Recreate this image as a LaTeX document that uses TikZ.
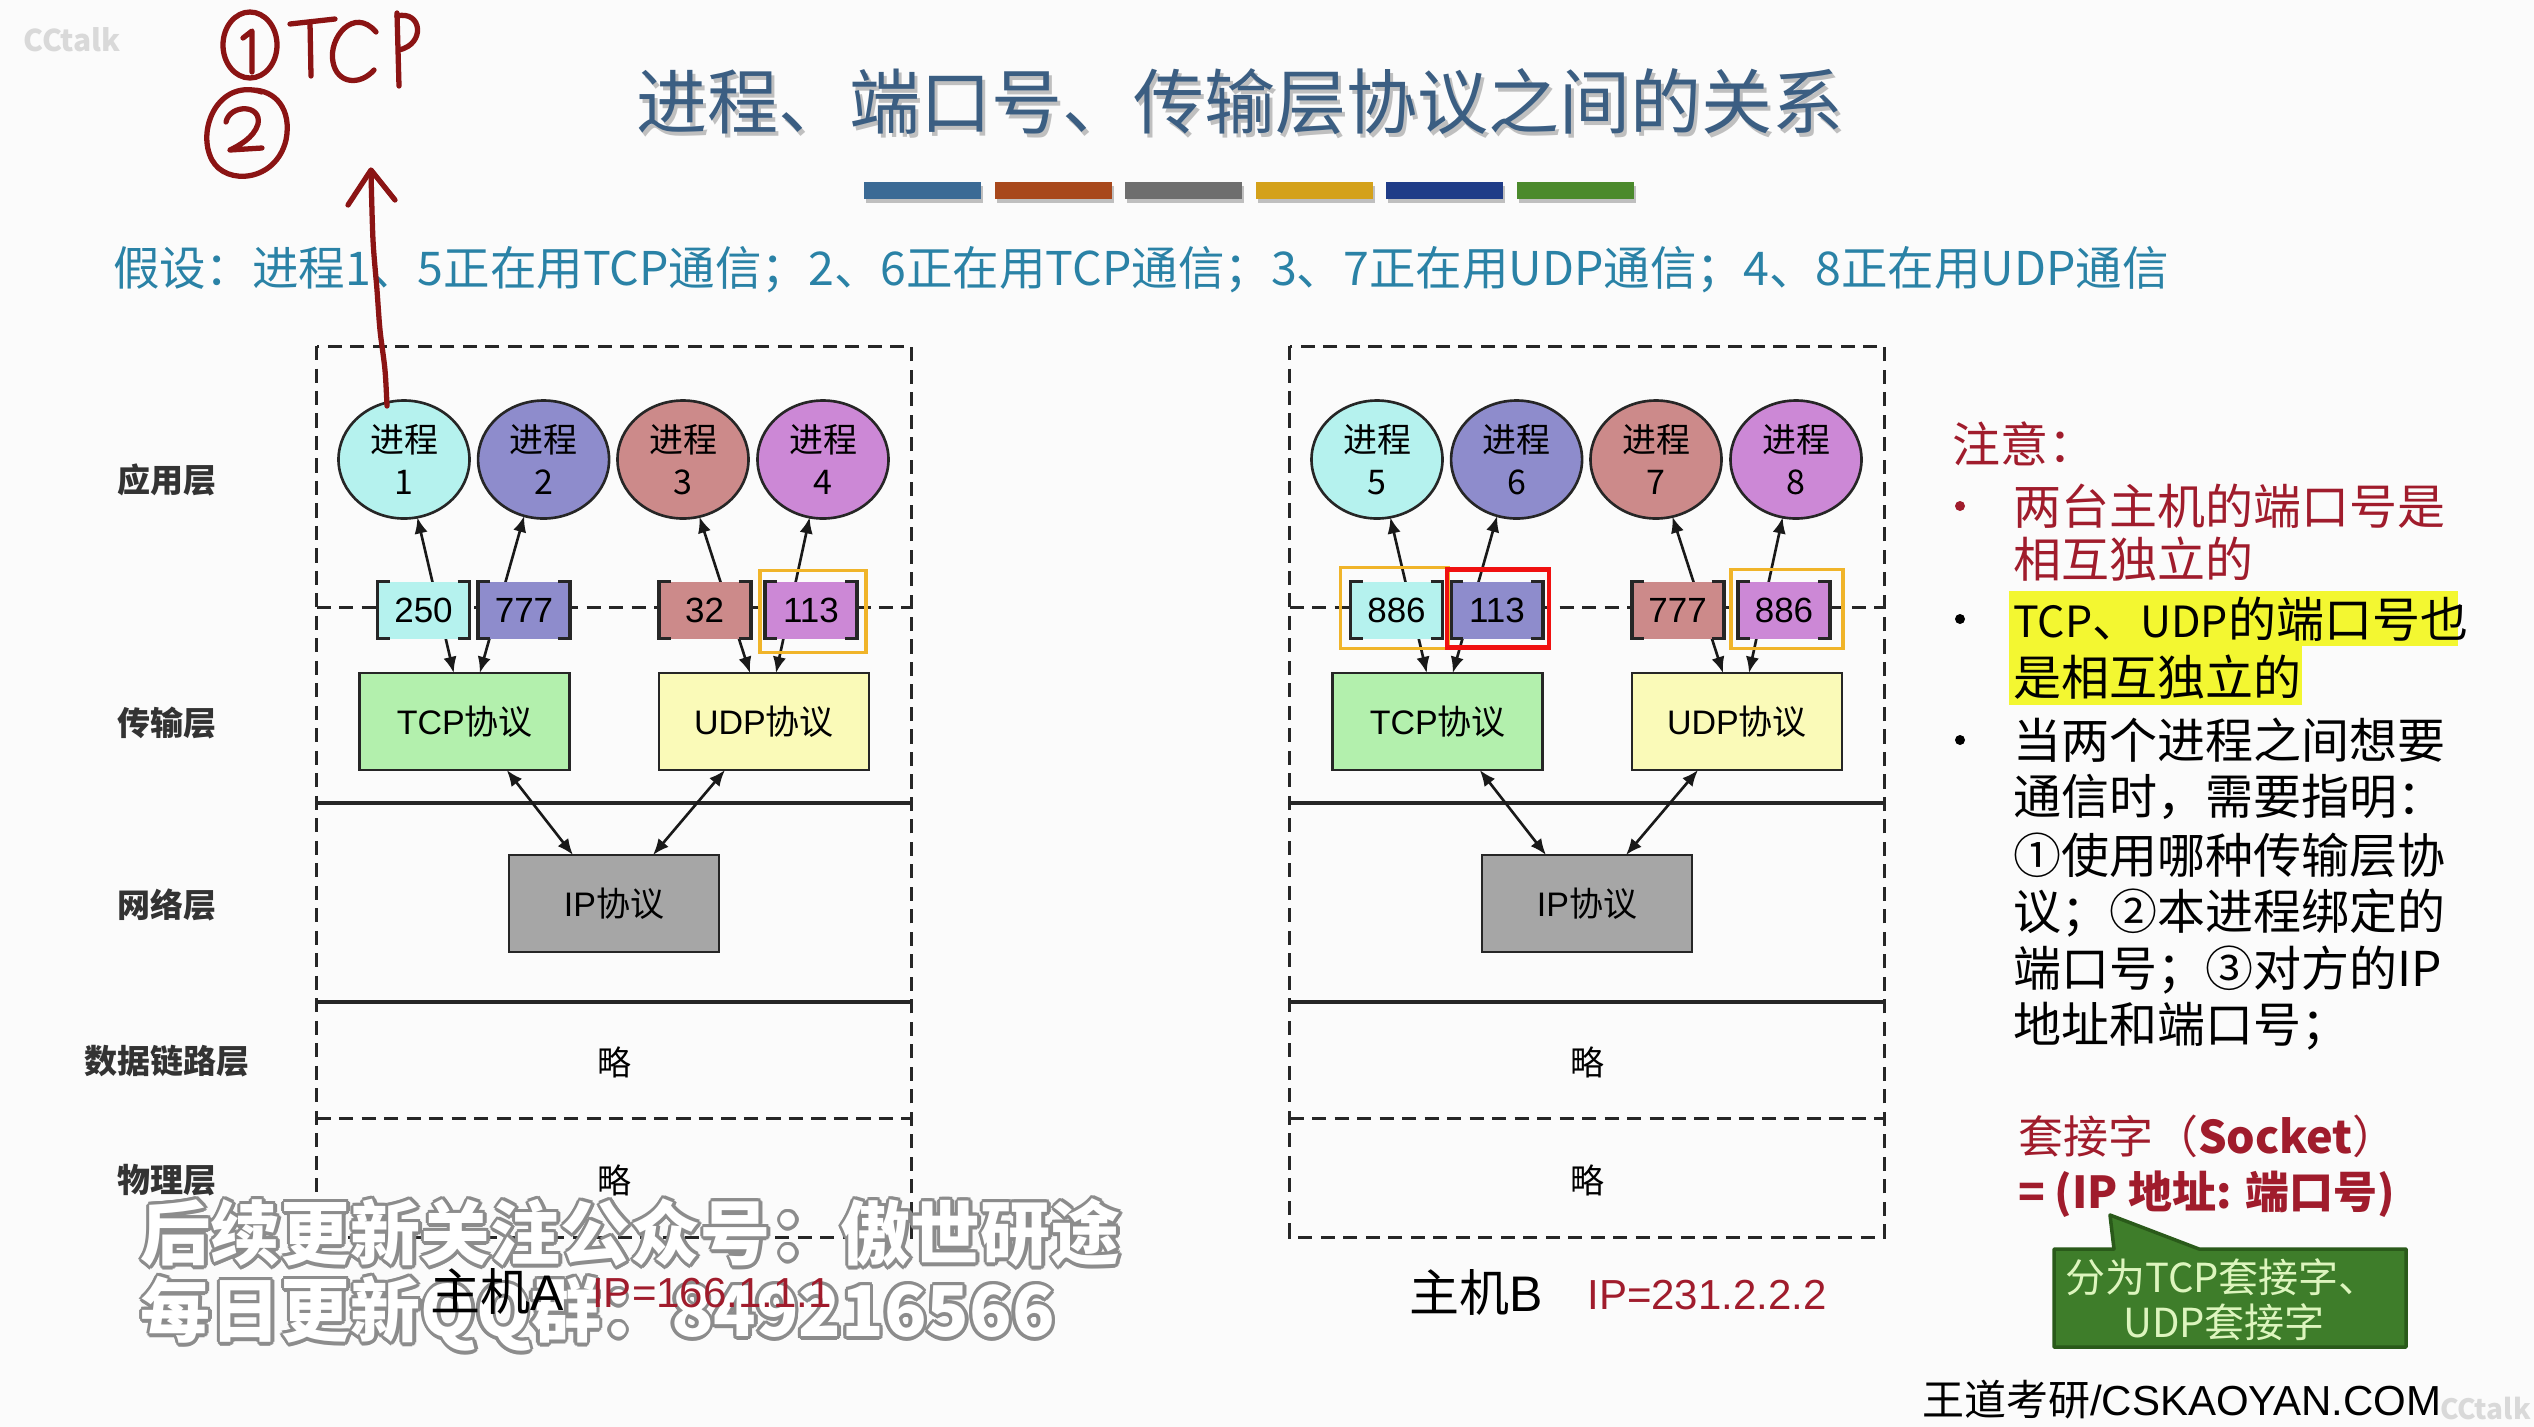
\documentclass[tikz,border=0pt]{standalone}
\usepackage{fontspec}
\setmainfont{Noto Sans CJK SC}
\newfontfamily\helv{Liberation Sans}
\usetikzlibrary{shapes.geometric,arrows.meta,calc}

% font size given in picture pixels (1px = 0.1mm)
\newcommand\pxfont[1]{\fontsize{\fpeval{#1*0.28453}pt}{\fpeval{#1*0.28453*1.24}pt}\selectfont}

\definecolor{paper}{HTML}{FBFBFB}
\definecolor{procA}{HTML}{B5F2EE}
\definecolor{procB}{HTML}{8E8CCC}
\definecolor{procC}{HTML}{CC8A8A}
\definecolor{procD}{HTML}{CC88D6}
\definecolor{tcpfill}{HTML}{B3F0AD}
\definecolor{udpfill}{HTML}{FAFAB8}
\definecolor{ipfill}{HTML}{A6A6A6}
\definecolor{titleblue}{HTML}{3B5E82}
\definecolor{assume}{HTML}{2A82A6}
\definecolor{notered}{HTML}{A01C2C}
\definecolor{inkred}{HTML}{8B1414}
\definecolor{hlorange}{HTML}{F0B429}
\definecolor{hlred}{HTML}{F01010}
\definecolor{hlyellow}{HTML}{F3F731}
\definecolor{calloutfill}{HTML}{3E7D2A}
\definecolor{calloutedge}{HTML}{2A5A1A}
\definecolor{callouttext}{HTML}{DDF5BE}
\definecolor{wmgray}{HTML}{8C8C8C}
\definecolor{barA}{HTML}{3B6A95}
\definecolor{barB}{HTML}{A8481C}
\definecolor{barC}{HTML}{6E6E6E}
\definecolor{barD}{HTML}{D4A11A}
\definecolor{barE}{HTML}{1F3C88}
\definecolor{barF}{HTML}{4B8A2C}

% square brackets on the left and right sides of a port box
\newcommand\brk[1]{%
  \draw[brkline] ([xshift=1.2mm]#1.north west) -- (#1.north west) -- (#1.south west) -- ([xshift=1.2mm]#1.south west);
  \draw[brkline] ([xshift=-1.2mm]#1.north east) -- (#1.north east) -- (#1.south east) -- ([xshift=-1.2mm]#1.south east);}

% one host: #1 name suffix, #2 x offset, #3 first process number, #4-#7 port numbers
\newcommand\hostpanel[7]{%
\begin{scope}[shift={(#2,0)}]
  \draw[layerdash] (316.6,346) rectangle (911.5,1237);
  \draw[layerdash] (316.6,607) -- (911.5,607);
  \draw[layersolid] (316.6,803) -- (911.5,803);
  \draw[layersolid] (316.6,1002) -- (911.5,1002);
  \draw[layerdash] (316.6,1118) -- (911.5,1118);
  \node[proc, fill=procA] (p#1a) at (404,459.5) {进程\\\the\numexpr#3\relax};
  \node[proc, fill=procB] (p#1b) at (543.6,459.5) {进程\\\the\numexpr#3+1\relax};
  \node[proc, fill=procC] (p#1c) at (683,459.5) {进程\\\the\numexpr#3+2\relax};
  \node[proc, fill=procD] (p#1d) at (823,459.5) {进程\\\the\numexpr#3+3\relax};
  \node[proto, fill=tcpfill] (tcp#1) at (464.75,721.5) {{\helv TCP}协议};
  \node[proto, fill=udpfill] (udp#1) at (764,721.5) {{\helv UDP}协议};
  \node[proto, fill=ipfill] (ip#1) at (614,903.5) {{\helv IP}协议};
  \draw[biarrow] ([xshift=-1.1mm]tcp#1.north) -- (p#1a.283);
  \draw[biarrow] ([xshift=1.5mm]tcp#1.north) -- (p#1b.251);
  \draw[biarrow] ([xshift=-1.4mm]udp#1.north) -- (p#1c.286);
  \draw[biarrow] ([xshift=1.2mm]udp#1.north) -- (p#1d.257);
  \draw[biarrow] ([xshift=4.2mm]tcp#1.south) -- ([xshift=-4.1mm]ip#1.north);
  \draw[biarrow] ([xshift=-3.9mm]udp#1.south) -- ([xshift=3.9mm]ip#1.north);
  \node[port, fill=procA] (pt#1a) at (423.5,610) {#4};
  \node[port, fill=procB] (pt#1b) at (524,610) {#5};
  \node[port, fill=procC] (pt#1c) at (704.6,610) {#6};
  \node[port, fill=procD] (pt#1d) at (811,610) {#7};
  \brk{pt#1a}\brk{pt#1b}\brk{pt#1c}\brk{pt#1d}
  \node[plain] (dl#1) at (614,1062) {略};
  \node[plain] (ph#1) at (614,1180) {略};
\end{scope}}

% outlined watermark line: #1 name, #2 west point, #3 text
\newcommand\wmline[3]{%
  \foreach \ang in {0,30,...,330}
    \node[wm, text=wmgray, anchor=west] at ($#2+(\ang:3.4)$) {#3};
  \node[wm, text=white, anchor=west] (#1) at #2 {#3};}

\begin{document}
\begin{tikzpicture}[x=0.1mm,y=-0.1mm,
  every node/.style={inner sep=0pt, outer sep=0pt},
  proc/.style={ellipse, draw=black!85, line width=0.75pt, minimum width=13.1mm,
    minimum height=11.8mm, align=center, font=\pxfont{34}},
  proto/.style={rectangle, draw=black!85, line width=0.8pt, minimum width=21mm,
    minimum height=9.7mm, font=\pxfont{34}},
  port/.style={rectangle, minimum width=9.2mm, minimum height=5.7mm, font=\helv\pxfont{35}},
  brkline/.style={line width=1.1pt, black!85},
  biarrow/.style={{Latex[length=4.6pt,width=3.8pt]}-{Latex[length=4.6pt,width=3.8pt]},
    line width=0.75pt, black!90},
  layerdash/.style={dash pattern=on 4pt off 2.4pt, line width=0.85pt, black!85},
  layersolid/.style={line width=1pt, black!85},
  plain/.style={font=\pxfont{34}},
  lbl/.style={font=\bfseries\pxfont{33}, text=black!80},
  hl/.style={line width=1pt},
  note/.style={anchor=west, font=\pxfont{48}},
  wm/.style={font=\bfseries\pxfont{70}},
  ink/.style={inkred, line width=1.5pt, line cap=round, line join=round}]

\useasboundingbox (0,0) rectangle (2534,1427);
\fill[paper] (0,0) rectangle (2534,1427);

% faint logo marks
\node[font=\bfseries\pxfont{30}, text=black!15] (logoTL) at (72,40) {CCtalk};
\node[font=\bfseries\pxfont{28}, text=black!15, anchor=west] (logoBR) at (2440,1408) {CCtalk};

% title with a soft shadow and the colour strip
\node[font=\pxfont{71}, text=black!25] at (1243,106) {进程、端口号、传输层协议之间的关系};
\node[font=\pxfont{71}, text=titleblue] (title) at (1240,102) {进程、端口号、传输层协议之间的关系};
\foreach \c [count=\i from 0] in {barA,barB,barC,barD,barE,barF}{
  \fill[black!25] (866+130.6*\i,186) rectangle ++(117,17);
  \fill[\c] (864+130.6*\i,182) rectangle ++(117,17);
}

\node[anchor=west, font=\pxfont{46.5}, text=assume] (assume) at (113,270)
  {假设：进程1、5正在用TCP通信；2、6正在用TCP通信；3、7正在用UDP通信；4、8正在用UDP通信};

% layer names
\node[lbl] (lyrApp) at (167,480) {应用层};
\node[lbl] (lyrTrans) at (167,723) {传输层};
\node[lbl] (lyrNet) at (167,905) {网络层};
\node[lbl] (lyrLink) at (167,1061) {数据链路层};
\node[lbl] (lyrPhy) at (167,1180) {物理层};

% the two hosts
\hostpanel{A}{0}{1}{250}{777}{32}{113}
\hostpanel{B}{973}{5}{886}{113}{777}{886}

% highlighted ports
\draw[hl, hlorange] ($(ptAd.north west)+(-5,-11)$) rectangle ($(ptAd.south east)+(9,14)$);
\draw[hl, hlorange] ($(ptBa.north west)+(-10,-14)$) rectangle ($(ptBa.south east)+(6,10)$);
\draw[hl, hlred, line width=1.2pt] ($(ptBb.north west)+(-4,-12)$) rectangle ($(ptBb.south east)+(6,9)$);
\draw[hl, hlorange] ($(ptBd.north west)+(-7,-12)$) rectangle ($(ptBd.south east)+(13,10)$);

% notes on the right
\node[note, text=notered] (n0) at (1952,444) {注意：};
\fill[notered] (1960,506) circle (5);
\node[note, text=notered] (n1) at (2013,506) {两台主机的端口号是};
\node[note, text=notered] (n2) at (2013,559) {相互独立的};
\fill[hlyellow] (2009,591) rectangle (2458,646);
\fill[hlyellow] (2009,646) rectangle (2302,705);
\fill[black] (1960,619) circle (5);
\node[note] (n3) at (2013,619) {{\pxfont{43}TCP}、{\pxfont{43}UDP}的端口号也};
\node[note] (n4) at (2013,677) {是相互独立的};
\fill[black] (1960,740) circle (5);
\node[note] (n5) at (2013,740) {当两个进程之间想要};
\node[note] (n6) at (2013,797) {通信时，需要指明：};
\node[note] (n7) at (2013,855) {①使用哪种传输层协};
\node[note] (n8) at (2013,913) {议；②本进程绑定的};
\node[note] (n9) at (2013,970) {端口号；③对方的IP};
\node[note] (n10) at (2013,1026) {地址和端口号；};

\node[anchor=west, font=\pxfont{45}, text=notered] (sock1) at (2018,1136) {套接字（\textbf{Socket}）};
\node[anchor=west, font=\bfseries\pxfont{44}, text=notered] (sock2) at (2018,1194) {= (IP 地址: 端口号)};

% callout
\draw[fill=calloutfill, draw=calloutedge, line width=1pt, line join=round]
  (2054,1249) -- (2114,1249) -- (2110,1215) -- (2199,1249) -- (2406,1249)
  -- (2406,1347) -- (2054,1347) -- cycle;
\node[font=\pxfont{40}, text=callouttext] (co1) at (2222,1277) {分为TCP套接字、};
\node[font=\pxfont{40}, text=callouttext] (co2) at (2224,1322) {UDP套接字};

\node[anchor=west, font=\pxfont{42}] (brand) at (1922,1400) {王道考研{\helv /CSKAOYAN.COM}};

% hand-written annotation
\draw[ink] (250,45) ellipse [x radius=27, y radius=33];
\draw[ink] (243,38) -- (252,31) -- (252,72);
\draw[ink] (290,24) -- (335,19);
\draw[ink] (310,22) -- (311,76);
\draw[ink] (376,32) .. controls (354,6) and (328,38) .. (333,62) .. controls (337,84) and (360,86) .. (374,70);
\draw[ink] (397,13) -- (399,86);
\draw[ink] (397,16) .. controls (422,10) and (426,44) .. (399,50);
\draw[ink] (262,92) .. controls (218,78) and (196,130) .. (212,160) .. controls (226,186) and (276,182) .. (286,140) .. controls (292,110) and (276,90) .. (252,90);
\draw[ink] (226,122) .. controls (230,104) and (262,104) .. (258,124) .. controls (254,138) and (238,146) .. (230,150) -- (262,148);
\draw[ink] plot[smooth] coordinates {(387,406) (385,370) (380,330) (377,290) (373,240) (371,172)};
\draw[ink] (348,205) -- (371,170) -- (395,200);

% watermark lines
\wmline{wm1}{(141,1233)}{后续更新关注公众号：傲世研途}
\wmline{wm2}{(141,1314)}{每日更新QQ群：849216566}

% host captions, set over the watermark
\node[font=\pxfont{50}] (hostA) at (497,1291) {主机{\helv A}};
\node[font=\helv\pxfont{42}, text=notered] (ipA) at (712,1293) {IP=166.1.1.1};
\node[font=\pxfont{50}] (hostB) at (1476,1292) {主机{\helv B}};
\node[font=\helv\pxfont{42}, text=notered] (ipB) at (1707,1295) {IP=231.2.2.2};

\end{tikzpicture}
\end{document}
